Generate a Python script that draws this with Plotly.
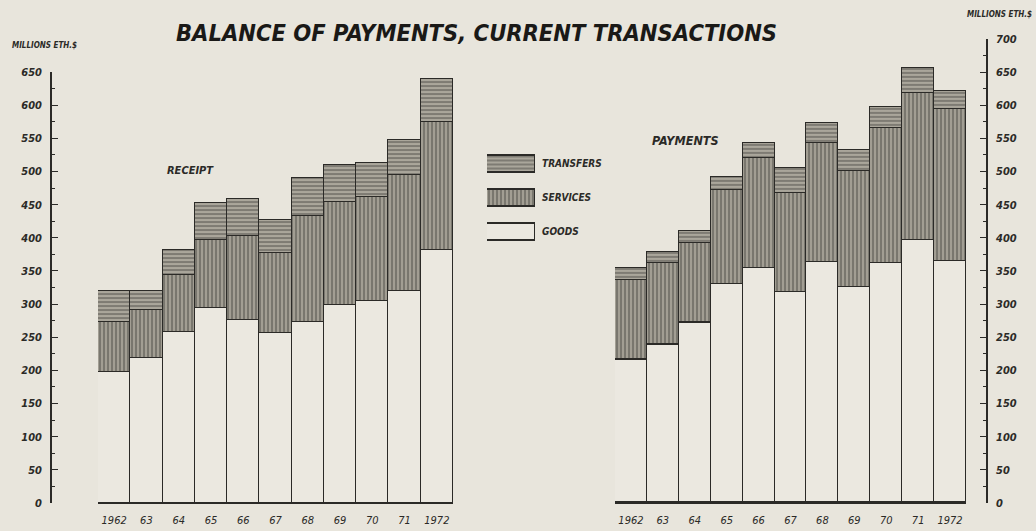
import plotly.graph_objects as go

# Balance of payments, current transactions (millions Eth.$)
years = ["1962", "63", "64", "65", "66", "67", "68", "69", "70", "71", "1972"]

receipt_goods = [198, 218, 258, 294, 276, 256, 273, 299, 304, 319, 381]
receipt_services = [75, 73, 86, 102, 127, 121, 160, 155, 157, 175, 194]
receipt_transfers = [47, 29, 38, 56, 55, 50, 57, 55, 51, 54, 65]

payment_goods = [216, 239, 271, 331, 355, 319, 364, 326, 362, 397, 365]
payment_services = [121, 123, 122, 142, 165, 149, 179, 175, 204, 222, 230]
payment_transfers = [17, 17, 18, 19, 23, 37, 30, 31, 32, 37, 26]

legend_items = ["GOODS", "SERVICES", "TRANSFERS"]
left_ticks = list(range(0, 651, 50))
right_ticks = list(range(0, 701, 50))

W, H = 1036, 531
PAPER = "#e8e5dc"
INK = "#2b2a27"
FONT = "Liberation Sans Narrow, DejaVu Sans Condensed, Liberation Sans, sans-serif"


def fx(px):
    return px / W


def fy(py):
    return (H - py) / H


line = dict(color=INK, width=1.4)
styles = {
    "GOODS": dict(color="#ebe8e0", line=line),
    "SERVICES": dict(color="#96928a", line=line,
                     pattern=dict(shape="|", fgcolor="#3c3a35", bgcolor="#a29e93",
                                  size=4, solidity=0.4, fillmode="overlay")),
    "TRANSFERS": dict(color="#9c988e", line=line,
                      pattern=dict(shape="-", fgcolor="#3c3a35", bgcolor="#aaa69b",
                                   size=4, solidity=0.4, fillmode="overlay")),
}

fig = go.Figure()

for name, vals in zip(legend_items, [receipt_goods, receipt_services, receipt_transfers]):
    fig.add_trace(go.Bar(x=years, y=vals, name=name, marker=styles[name],
                         xaxis="x", yaxis="y", showlegend=False, cliponaxis=False))
for name, vals in zip(legend_items, [payment_goods, payment_services, payment_transfers]):
    fig.add_trace(go.Bar(x=years, y=vals, name=name, marker=styles[name],
                         xaxis="x2", yaxis="y2", showlegend=False, cliponaxis=False))
# key swatches
for name in legend_items:
    fig.add_trace(go.Bar(x=[1], y=[name], orientation="h", marker=styles[name],
                         xaxis="x3", yaxis="y3", showlegend=False, width=0.5,
                         cliponaxis=False))

tickfont = dict(family=FONT, size=11, color=INK, weight="bold", style="italic")
xtickfont = dict(family=FONT, size=11, color=INK, style="italic")

base = fy(503)
fig.update_layout(
    width=W, height=H,
    margin=dict(l=0, r=0, t=0, b=0, autoexpand=False),
    paper_bgcolor=PAPER, plot_bgcolor="rgba(0,0,0,0)",
    barmode="stack", bargap=0,
    xaxis=dict(domain=[fx(98), fx(453)], anchor="y", range=[-0.5, 10.5],
               showline=True, linecolor=INK, linewidth=1.4, showgrid=False,
               ticks="", tickfont=xtickfont, ticklabelstandoff=7,
               automargin=False),
    yaxis=dict(domain=[base, fy(503 - 650 * 0.663)], range=[0, 650],
               anchor="free", position=fx(51), side="left",
               showline=True, linecolor=INK, linewidth=1.6, showgrid=False,
               tickvals=left_ticks, ticks="inside", ticklen=6, tickwidth=1.2,
               tickcolor=INK, tickfont=tickfont, ticklabelstandoff=6,
               minor=dict(dtick=25, ticks="inside", ticklen=3, tickcolor=INK),
               zeroline=False, automargin=False),
    xaxis2=dict(domain=[fx(615), fx(966)], anchor="y2", range=[-0.5, 10.5],
                showline=True, linecolor=INK, linewidth=1.4, showgrid=False,
                ticks="", tickfont=xtickfont, ticklabelstandoff=7,
                automargin=False),
    yaxis2=dict(domain=[base, fy(503 - 700 * 0.663)], range=[0, 700],
                anchor="free", position=fx(987), side="right",
                showline=True, linecolor=INK, linewidth=1.6, showgrid=False,
                tickvals=right_ticks, ticks="inside", ticklen=6, tickwidth=1.2,
                tickcolor=INK, tickfont=tickfont, ticklabelstandoff=6,
                minor=dict(dtick=25, ticks="inside", ticklen=3, tickcolor=INK),
                zeroline=False, automargin=False),
    xaxis3=dict(domain=[fx(487), fx(535)], anchor="y3", range=[0, 1],
                visible=False, automargin=False),
    yaxis3=dict(domain=[fy(248.5), fy(146.5)], anchor="x3", side="right",
                categoryorder="array", categoryarray=legend_items,
                range=[-0.5, 2.5], showline=False, showgrid=False, ticks="",
                tickfont=dict(family=FONT, size=10, color=INK, weight="bold",
                              style="italic"),
                ticklabelstandoff=6, zeroline=False, automargin=False),
)

title_font = dict(family=FONT, size=23.5, color="#1a1917", weight="bold", style="italic")
small_font = dict(family=FONT, size=8, color=INK, weight="bold", style="italic")

fig.add_annotation(text="BALANCE OF PAYMENTS, CURRENT TRANSACTIONS",
                   x=fx(476), y=fy(33), xref="paper", yref="paper",
                   showarrow=False, font=title_font, xanchor="center", yanchor="middle")
fig.add_annotation(text="MILLIONS ETH.$", x=fx(10), y=fy(45), xref="paper", yref="paper",
                   showarrow=False, font=small_font, xanchor="left", yanchor="middle")
fig.add_annotation(text="MILLIONS ETH.$", x=fx(1034), y=fy(15), xref="paper", yref="paper",
                   showarrow=False, font=small_font, xanchor="right", yanchor="middle")
fig.add_annotation(text="RECEIPT", x=fx(165), y=fy(170), xref="paper", yref="paper",
                   showarrow=False, xanchor="left", yanchor="middle",
                   font=dict(family=FONT, size=11, color=INK, weight="bold", style="italic"))
fig.add_annotation(text="PAYMENTS", x=fx(650), y=fy(140), xref="paper", yref="paper",
                   showarrow=False, xanchor="left", yanchor="middle",
                   font=dict(family=FONT, size=12.5, color=INK, weight="bold", style="italic"))

fig.write_html("out.html")
